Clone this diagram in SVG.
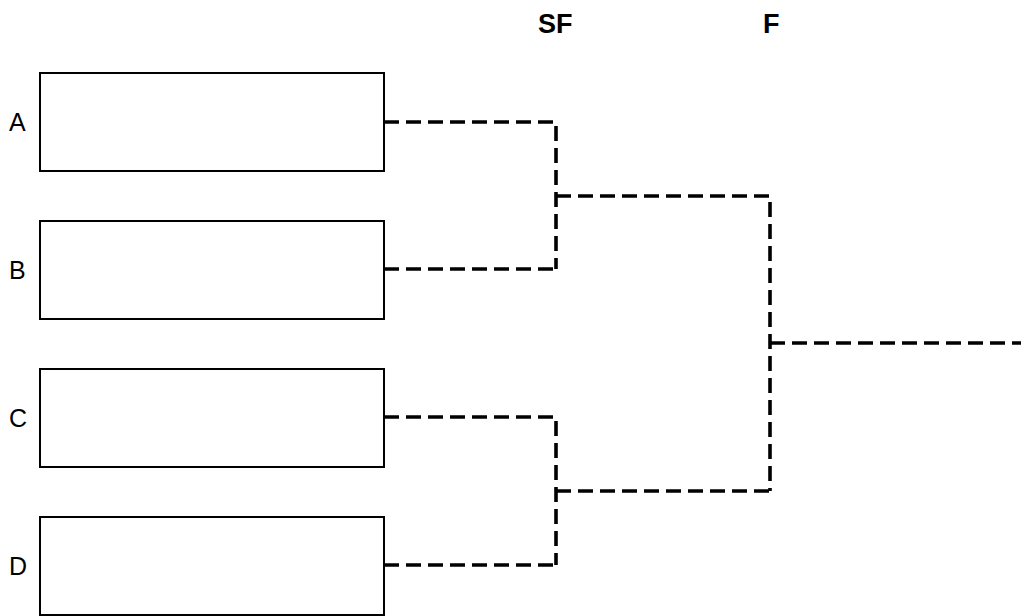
<svg xmlns="http://www.w3.org/2000/svg" width="1021" height="616" viewBox="0 0 1021 616">
<style>
.box{fill:#fff;stroke:#000;stroke-width:2}
.lbl{font-family:"Liberation Sans",Arial,sans-serif;font-size:25px;fill:#000}
.hdr{font-family:"Liberation Sans",Arial,sans-serif;font-size:27px;font-weight:bold;fill:#000}
.con{fill:none;stroke:#000;stroke-width:3.6;stroke-dasharray:15 7}
</style>
<rect width="1021" height="616" fill="#fff"/>
<g id="headers">
<text class="hdr" x="538" y="33">SF</text>
<text class="hdr" x="763" y="33">F</text>
</g>
<g id="nodeA"><rect class="box" x="40" y="73" width="344" height="98"/><text class="lbl" x="9" y="131">A</text></g>
<g id="nodeB"><rect class="box" x="40" y="221" width="344" height="98"/><text class="lbl" x="9" y="279">B</text></g>
<g id="nodeC"><rect class="box" x="40" y="369" width="344" height="98"/><text class="lbl" x="9" y="427">C</text></g>
<g id="nodeD"><rect class="box" x="40" y="517" width="344" height="98"/><text class="lbl" x="9" y="575">D</text></g>
<g id="connectors">
<path class="con" d="M384 122 H556 V269"/>
<path class="con" d="M384 269 H556"/>
<path class="con" d="M556 196 H770 V491"/>
<path class="con" d="M384 417 H556 V565"/>
<path class="con" d="M384 565 H556"/>
<path class="con" d="M556 491 H770"/>
<path class="con" d="M770 343 H1021"/>
</g>
</svg>
